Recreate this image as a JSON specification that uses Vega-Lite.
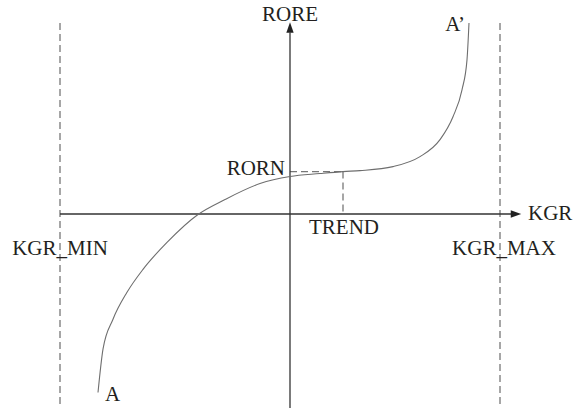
{
  "$schema": "https://vega.github.io/schema/vega-lite/v6.json",
  "width": 575,
  "height": 409,
  "autosize": {"type": "fit", "contains": "padding"},
  "padding": 0,
  "background": "white",
  "config": {"view": {"stroke": null}},
  "datasets": {
    "curve": [
      {"i": 1, "x": -192, "y": -179},
      {"i": 2, "x": -187, "y": -135.5},
      {"i": 3, "x": -177, "y": -105.5},
      {"i": 4, "x": -163, "y": -78.5},
      {"i": 5, "x": -147, "y": -55.5},
      {"i": 6, "x": -123, "y": -28.5},
      {"i": 7, "x": -92, "y": -0.5},
      {"i": 8, "x": -65, "y": 14.5},
      {"i": 9, "x": -30, "y": 30.5},
      {"i": 10, "x": 0, "y": 37.5},
      {"i": 11, "x": 30, "y": 40.5},
      {"i": 12, "x": 53, "y": 42.5},
      {"i": 13, "x": 70, "y": 43.5},
      {"i": 14, "x": 103, "y": 47.5},
      {"i": 15, "x": 130, "y": 57.5},
      {"i": 16, "x": 150, "y": 74.5},
      {"i": 17, "x": 163, "y": 97.5},
      {"i": 18, "x": 172, "y": 124.5},
      {"i": 19, "x": 177, "y": 154.5},
      {"i": 20, "x": 179, "y": 191.5}
    ],
    "axes": [
      {"name": "vertical", "x": 0, "x2": 0, "y": 182, "y2": -194.5},
      {"name": "horizontal", "x": -230, "x2": 222, "y": 0, "y2": 0}
    ],
    "dashed": [
      {"name": "KGR_MIN", "x": -230, "x2": -230, "y": 191.5, "y2": -194.5},
      {"name": "KGR_MAX", "x": 210, "x2": 210, "y": 191.5, "y2": -194.5},
      {"name": "RORN", "x": 0, "x2": 53, "y": 42.5, "y2": 42.5},
      {"name": "TREND", "x": 53, "x2": 53, "y": 42.5, "y2": 0}
    ],
    "labelsCenter": [
      {"label": "RORE", "x": 0, "y": 193},
      {"label": "TREND", "x": 54, "y": -20.5},
      {"label": "KGR_MIN", "x": -230, "y": -41.5},
      {"label": "KGR_MAX", "x": 214, "y": -41.5}
    ],
    "labelsRight": [
      {"label": "RORN", "x": -5, "y": 39.5},
      {"label": "A’", "x": 175, "y": 183.5}
    ],
    "labelsLeft": [
      {"label": "KGR", "x": 238, "y": -6.5},
      {"label": "A", "x": -185, "y": -187}
    ]
  },
  "encoding": {
    "x": {"type": "quantitative", "scale": {"domain": [-290, 285], "nice": false, "zero": false}, "axis": null},
    "y": {"type": "quantitative", "scale": {"domain": [-194.5, 214.5], "nice": false, "zero": false}, "axis": null}
  },
  "layer": [
    {
      "data": {"name": "dashed"},
      "mark": {"type": "rule", "stroke": "#777777", "strokeWidth": 1.3, "strokeDash": [7, 4]},
      "encoding": {"x": {"field": "x"}, "x2": {"field": "x2"}, "y": {"field": "y"}, "y2": {"field": "y2"}}
    },
    {
      "data": {"name": "axes"},
      "mark": {"type": "rule", "stroke": "#333333", "strokeWidth": 1.3},
      "encoding": {"x": {"field": "x"}, "x2": {"field": "x2"}, "y": {"field": "y"}, "y2": {"field": "y2"}}
    },
    {
      "data": {"values": [{"dir": "up", "x": 0, "y": 187}]},
      "mark": {"type": "point", "shape": "M0,-1L0.7,1L-0.7,1Z", "filled": true, "fill": "#222222", "opacity": 1, "size": 110, "strokeWidth": 0},
      "encoding": {"x": {"field": "x"}, "y": {"field": "y"}}
    },
    {
      "data": {"values": [{"dir": "right", "x": 226, "y": 0}]},
      "mark": {"type": "point", "shape": "M1,0L-1,0.7L-1,-0.7Z", "filled": true, "fill": "#222222", "opacity": 1, "size": 110, "strokeWidth": 0},
      "encoding": {"x": {"field": "x"}, "y": {"field": "y"}}
    },
    {
      "data": {"name": "curve"},
      "mark": {"type": "line", "stroke": "#6e6e6e", "strokeWidth": 1.1, "interpolate": "monotone"},
      "encoding": {"x": {"field": "x"}, "y": {"field": "y"}, "order": {"field": "i", "type": "quantitative"}}
    },
    {
      "data": {"name": "labelsCenter"},
      "mark": {"type": "text", "font": "Liberation Serif", "fontSize": 21, "fill": "#231f20", "align": "center", "baseline": "alphabetic"},
      "encoding": {"x": {"field": "x"}, "y": {"field": "y"}, "text": {"field": "label"}}
    },
    {
      "data": {"name": "labelsRight"},
      "mark": {"type": "text", "font": "Liberation Serif", "fontSize": 21, "fill": "#231f20", "align": "right", "baseline": "alphabetic"},
      "encoding": {"x": {"field": "x"}, "y": {"field": "y"}, "text": {"field": "label"}}
    },
    {
      "data": {"name": "labelsLeft"},
      "mark": {"type": "text", "font": "Liberation Serif", "fontSize": 21, "fill": "#231f20", "align": "left", "baseline": "alphabetic"},
      "encoding": {"x": {"field": "x"}, "y": {"field": "y"}, "text": {"field": "label"}}
    }
  ]
}
